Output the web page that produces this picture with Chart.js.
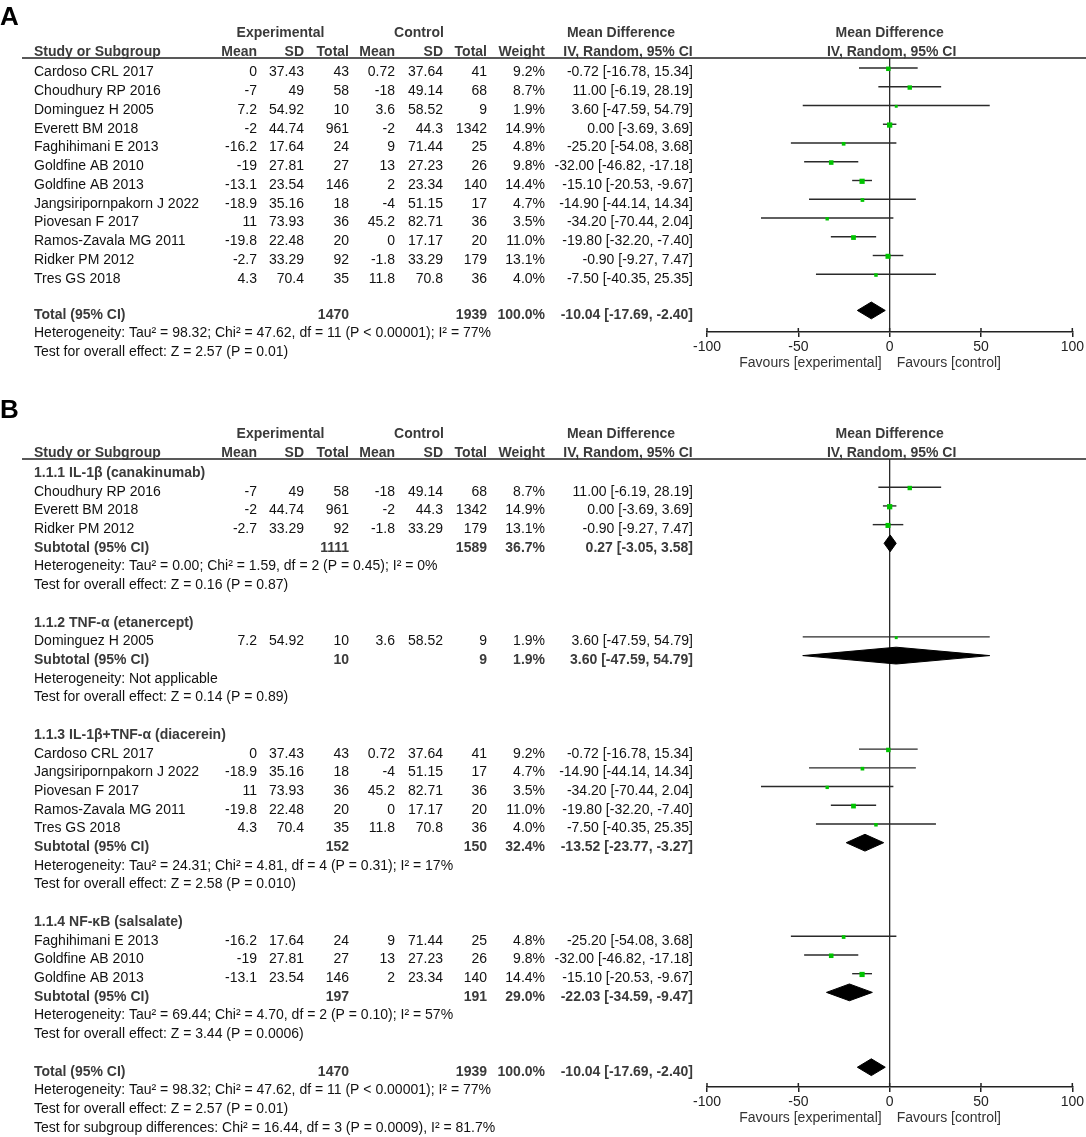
<!DOCTYPE html>
<html><head><meta charset="utf-8">
<script src="https://cdn.jsdelivr.net/npm/chart.js@4.4.1/dist/chart.umd.min.js"></script>
<style>
html,body{margin:0;padding:0;background:#fff;}
#wrap{position:relative;width:1086px;height:1137px;overflow:hidden;}
canvas{position:absolute;left:0;}
</style></head><body>
<div id="wrap">
<canvas id="cA" width="1086" height="390" style="top:0;width:1086px;height:390px"></canvas>
<canvas id="cB" width="1086" height="747" style="top:390px;width:1086px;height:747px"></canvas>
</div>
<script>
// ---------- DATA ----------
const studies = ['Cardoso CRL 2017','Choudhury RP 2016','Dominguez H 2005','Everett BM 2018','Faghihimani E 2013','Goldfine AB 2010','Goldfine AB 2013','Jangsiripornpakorn J 2022','Piovesan F 2017','Ramos-Zavala MG 2011','Ridker PM 2012','Tres GS 2018'];
const expMean = [0, -7, 7.2, -2, -16.2, -19, -13.1, -18.9, 11, -19.8, -2.7, 4.3];
const expSD   = [37.43, 49, 54.92, 44.74, 17.64, 27.81, 23.54, 35.16, 73.93, 22.48, 33.29, 70.4];
const expN    = [43, 58, 10, 961, 24, 27, 146, 18, 36, 20, 92, 35];
const ctlMean = [0.72, -18, 3.6, -2, 9, 13, 2, -4, 45.2, 0, -1.8, 11.8];
const ctlSD   = [37.64, 49.14, 58.52, 44.3, 71.44, 27.23, 23.34, 51.15, 82.71, 17.17, 33.29, 70.8];
const ctlN    = [41, 68, 9, 1342, 25, 26, 140, 17, 36, 20, 179, 36];
const weight  = [9.2, 8.7, 1.9, 14.9, 4.8, 9.8, 14.4, 4.7, 3.5, 11.0, 13.1, 4.0];
const md      = [-0.72, 11.00, 3.60, 0.00, -25.20, -32.00, -15.10, -14.90, -34.20, -19.80, -0.90, -7.50];
const ciLow   = [-16.78, -6.19, -47.59, -3.69, -54.08, -46.82, -20.53, -44.14, -70.44, -32.20, -9.27, -40.35];
const ciHigh  = [15.34, 28.19, 54.79, 3.69, 3.68, -17.18, -9.67, 14.34, 2.04, -7.40, 7.47, 25.35];

const subgroupTitles = ['1.1.1 IL-1β (canakinumab)','1.1.2 TNF-α (etanercept)','1.1.3 IL-1β+TNF-α (diacerein)','1.1.4 NF-κB (salsalate)'];
const subgroupMembers = [[1,3,10],[2],[0,7,8,9,11],[4,5,6]];
const subExpN   = [1111, 10, 152, 197];
const subCtlN   = [1589, 9, 150, 191];
const subWeight = [36.7, 1.9, 32.4, 29.0];
const subMD     = [0.27, 3.60, -13.52, -22.03];
const subLow    = [-3.05, -47.59, -23.77, -34.59];
const subHigh   = [3.58, 54.79, -3.27, -9.47];
const subHetero = ['Heterogeneity: Tau² = 0.00; Chi² = 1.59, df = 2 (P = 0.45); I² = 0%','Heterogeneity: Not applicable','Heterogeneity: Tau² = 24.31; Chi² = 4.81, df = 4 (P = 0.31); I² = 17%','Heterogeneity: Tau² = 69.44; Chi² = 4.70, df = 2 (P = 0.10); I² = 57%'];
const subEffect = ['Test for overall effect: Z = 0.16 (P = 0.87)','Test for overall effect: Z = 0.14 (P = 0.89)','Test for overall effect: Z = 2.58 (P = 0.010)','Test for overall effect: Z = 3.44 (P = 0.0006)'];

const totalExpN = 1470, totalCtlN = 1939, totalWeight = 100.0;
const totalMD = -10.04, totalLow = -17.69, totalHigh = -2.40;
const totalHetero = 'Heterogeneity: Tau² = 98.32; Chi² = 47.62, df = 11 (P < 0.00001); I² = 77%';
const totalEffect = 'Test for overall effect: Z = 2.57 (P = 0.01)';
const subgroupDiff = 'Test for subgroup differences: Chi² = 16.44, df = 3 (P = 0.0009), I² = 81.7%';
const xTicks = [-100, -50, 0, 50, 100];

// ---------- STYLE / LAYOUT ----------
const FONT = "'Liberation Sans', Arial, Helvetica, sans-serif";
Chart.defaults.font.family = FONT;
const COL = {name:34, expMean:257, expSD:304, expN:349, ctlMean:395, ctlSD:443, ctlN:487, weight:545, ci:693};
const GREEN = '#00c400';
const INK = '#111';
const GRAY = '#3a3a3a';

function fmtCI(m, l, h){ return m.toFixed(2) + ' [' + l.toFixed(2) + ', ' + h.toFixed(2) + ']'; }

function text(ctx, s, x, y, align, bold, size, color, baseline){
  ctx.font = (bold ? 'bold ' : '') + (size || 14) + 'px ' + FONT;
  ctx.fillStyle = color || (bold ? GRAY : INK);
  ctx.textAlign = align; ctx.textBaseline = baseline || 'middle';
  ctx.fillText(s, x, y);
}

// ---------- ROWS ----------
const rowsA = studies.map((s, i) => ({type:'study', i, r:i}));
rowsA.push({type:'total', r:12.93});
rowsA.push({type:'line', s:totalHetero, r:13.92});
rowsA.push({type:'line', s:totalEffect, r:14.92});

const rowsB = [];
let rr = 0;
subgroupTitles.forEach((t, g) => {
  rowsB.push({type:'title', s:t, r:rr++});
  subgroupMembers[g].forEach(i => rowsB.push({type:'study', i, r:rr++}));
  rowsB.push({type:'sub', g, r:rr++});
  rowsB.push({type:'line', s:subHetero[g], r:rr++});
  rowsB.push({type:'line', s:subEffect[g], r:rr++});
  rr++;
});
rowsB.push({type:'total', r:rr++});
rowsB.push({type:'line', s:totalHetero, r:rr++});
rowsB.push({type:'line', s:totalEffect, r:rr++});
rowsB.push({type:'line', s:subgroupDiff, r:rr++});

function makeChart(id, rows, lay){
  const yMin = (lay.top - lay.mark0) / lay.rowPx;
  const yMax = (lay.bottom - lay.mark0) / lay.rowPx;
  const dHalf = 8.4 / lay.rowPx;
  const sqShift = 0.8 / lay.rowPx;
  const datasets = [];
  const studyRows = rows.filter(o => o.type === 'study');
  // squares (size from study weight)
  datasets.push({
    data: studyRows.map(o => ({x: md[o.i], y: o.r + sqShift})),
    pointStyle: 'rect',
    pointRadius: studyRows.map(o => (1.6 + 0.95 * Math.sqrt(weight[o.i])) / 1.4142),
    backgroundColor: GREEN, borderWidth: 0, showLine: false, order: 0
  });
  // diamonds
  rows.forEach(o => {
    let m, l, h;
    if (o.type === 'sub') { m = subMD[o.g]; l = subLow[o.g]; h = subHigh[o.g]; }
    else if (o.type === 'total') { m = totalMD; l = totalLow; h = totalHigh; }
    else return;
    datasets.push({
      data: [{x:l, y:o.r}, {x:m, y:o.r - dHalf}, {x:h, y:o.r}, {x:m, y:o.r + dHalf}, {x:l, y:o.r}],
      showLine: true, fill: 'shape', backgroundColor: '#000', borderColor: '#000', borderWidth: 1,
      pointRadius: 0, order: 1
    });
  });
  // CI lines
  studyRows.forEach(o => {
    datasets.push({
      data: [{x: ciLow[o.i], y: o.r}, {x: ciHigh[o.i], y: o.r}],
      showLine: true, borderColor: '#2a2a2a', borderWidth: 1.4, pointRadius: 0, fill: false, order: 2
    });
  });
  // zero line
  datasets.push({
    data: [{x:0, y:yMin}, {x:0, y:yMax}],
    showLine: true, borderColor: '#2a2a2a', borderWidth: 1.3, pointRadius: 0, fill: false, order: 3
  });

  const tableText = {
    id: 'tableText',
    afterDraw(chart){
      const ctx = chart.ctx, a = chart.chartArea, ys = chart.scales.y, xs = chart.scales.x;
      const zx = xs.getPixelForValue(0);
      ctx.save();
      // panel letter
      text(ctx, lay.letter, 0, lay.letterBase, 'left', true, 26, '#000', 'alphabetic');
      // header line
      ctx.strokeStyle = '#222'; ctx.lineWidth = 1.5;
      ctx.beginPath(); ctx.moveTo(22, a.top); ctx.lineTo(1086, a.top); ctx.stroke();
      const h1 = a.top - 25, h2 = a.top - 5.5;
      text(ctx, 'Experimental', 280.5, h1, 'center', true);
      text(ctx, 'Control', 419, h1, 'center', true);
      text(ctx, 'Mean Difference', 621, h1, 'center', true);
      text(ctx, 'Mean Difference', zx, h1, 'center', true);
      text(ctx, 'Study or Subgroup', COL.name, h2, 'left', true);
      text(ctx, 'Mean', COL.expMean, h2, 'right', true);
      text(ctx, 'SD', COL.expSD, h2, 'right', true);
      text(ctx, 'Total', COL.expN, h2, 'right', true);
      text(ctx, 'Mean', COL.ctlMean, h2, 'right', true);
      text(ctx, 'SD', COL.ctlSD, h2, 'right', true);
      text(ctx, 'Total', COL.ctlN, h2, 'right', true);
      text(ctx, 'Weight', COL.weight, h2, 'right', true);
      text(ctx, 'IV, Random, 95% CI', 628, h2, 'center', true);
      text(ctx, 'IV, Random, 95% CI', zx + 2, h2, 'center', true);
      // rows
      rows.forEach(o => {
        const y = ys.getPixelForValue(o.r) + 4.5;
        if (o.type === 'study') {
          const i = o.i;
          text(ctx, studies[i], COL.name, y, 'left');
          text(ctx, String(expMean[i]), COL.expMean, y, 'right');
          text(ctx, String(expSD[i]), COL.expSD, y, 'right');
          text(ctx, String(expN[i]), COL.expN, y, 'right');
          text(ctx, String(ctlMean[i]), COL.ctlMean, y, 'right');
          text(ctx, String(ctlSD[i]), COL.ctlSD, y, 'right');
          text(ctx, String(ctlN[i]), COL.ctlN, y, 'right');
          text(ctx, weight[i].toFixed(1) + '%', COL.weight, y, 'right');
          text(ctx, fmtCI(md[i], ciLow[i], ciHigh[i]), COL.ci, y, 'right');
        } else if (o.type === 'title') {
          text(ctx, o.s, COL.name, y, 'left', true);
        } else if (o.type === 'sub') {
          const g = o.g;
          text(ctx, 'Subtotal (95% CI)', COL.name, y, 'left', true);
          text(ctx, String(subExpN[g]), COL.expN, y, 'right', true);
          text(ctx, String(subCtlN[g]), COL.ctlN, y, 'right', true);
          text(ctx, subWeight[g].toFixed(1) + '%', COL.weight, y, 'right', true);
          text(ctx, fmtCI(subMD[g], subLow[g], subHigh[g]), COL.ci, y, 'right', true);
        } else if (o.type === 'total') {
          text(ctx, 'Total (95% CI)', COL.name, y, 'left', true);
          text(ctx, String(totalExpN), COL.expN, y, 'right', true);
          text(ctx, String(totalCtlN), COL.ctlN, y, 'right', true);
          text(ctx, totalWeight.toFixed(1) + '%', COL.weight, y, 'right', true);
          text(ctx, fmtCI(totalMD, totalLow, totalHigh), COL.ci, y, 'right', true);
        } else if (o.type === 'line') {
          text(ctx, o.s, COL.name, y, 'left');
        }
      });
      // upper half of axis ticks
      ctx.strokeStyle = '#222'; ctx.lineWidth = 1.5;
      xs.ticks.forEach(t => {
        const px = xs.getPixelForValue(t.value);
        ctx.beginPath(); ctx.moveTo(px, a.bottom - 4); ctx.lineTo(px, a.bottom); ctx.stroke();
      });
      // favours labels
      text(ctx, 'Favours [experimental]', zx - 8, a.bottom + 31, 'right', false, 14, '#333');
      text(ctx, 'Favours [control]', zx + 7, a.bottom + 31, 'left', false, 14, '#333');
      ctx.restore();
    }
  };

  return new Chart(document.getElementById(id), {
    type: 'scatter',
    data: { datasets },
    options: {
      responsive: false, animation: false, devicePixelRatio: 1, events: [],
      clip: false,
      layout: { padding: { left: 707, right: 13, top: lay.top, bottom: lay.canvasH - lay.bottom - 50 } },
      plugins: { legend: { display: false }, tooltip: { enabled: false } },
      scales: {
        x: {
          type: 'linear', min: -100, max: 100, position: 'bottom',
          afterBuildTicks: (s) => { s.ticks = xTicks.map(v => ({value: v})); },
          afterFit: (s) => { s.height = 50; },
          ticks: { color: '#222', font: { size: 14, family: FONT }, padding: 2, maxRotation: 0, autoSkip: false },
          grid: { drawOnChartArea: false, drawTicks: true, tickLength: 5, color: '#222', lineWidth: 1.5 },
          border: { display: true, color: '#222', width: 1.5 }
        },
        y: { type: 'linear', display: false, reverse: true, min: yMin, max: yMax }
      }
    },
    plugins: [tableText]
  });
}

makeChart('cA', rowsA, {top:58, bottom:332, canvasH:390, mark0:68, rowPx:18.75, letter:'A', letterBase:25});
makeChart('cB', rowsB, {top:69, bottom:697, canvasH:747, mark0:78.5, rowPx:18.71, letter:'B', letterBase:28});
</script>
</body></html>
